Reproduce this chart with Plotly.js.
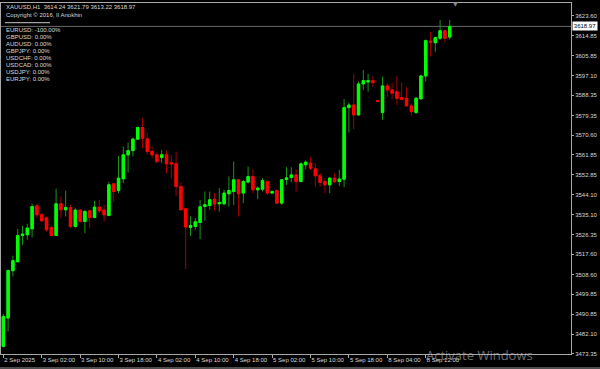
<!DOCTYPE html>
<html>
<head>
<meta charset="utf-8">
<script src="https://cdn.plot.ly/plotly-3.0.1.min.js"></script>
<style>html,body{margin:0;padding:0;background:#000;}#chart{width:600px;height:369px;}</style>
</head>
<body>
<div id="chart"></div>
<script>
// ---- data (XAUUSD H1) ----
const barIndex = Array.from({length: 94}, (_, i) => i);
const openP = [3476.60,3489.22,3510.25,3514.25,3525.94,3526.25,3528.91,3539.14,3535.14,3533.80,
3529.50,3525.94,3540.03,3537.36,3538.40,3529.94,3537.23,3532.16,3536.90,3533.94,
3538.56,3537.23,3534.83,3548.92,3545.94,3551.14,3561.81,3563.70,3568.79,3573.95,
3568.92,3563.30,3561.81,3560.60,3561.81,3558.40,3557.81,3547.72,3537.80,3529.50,
3529.94,3531.70,3538.83,3539.30,3542.10,3540.03,3540.03,3544.47,3545.50,3550.70,
3544.80,3549.70,3552.16,3546.26,3546.56,3549.94,3544.80,3545.94,3540.34,3550.83,
3551.70,3552.90,3549.94,3557.40,3558.10,3555.60,3552.50,3549.94,3548.47,3551.45,
3549.94,3551.00,3582.84,3584.00,3579.60,3593.37,3594.26,3594.84,3585.90,3580.61,
3592.48,3590.70,3589.95,3587.28,3587.00,3583.60,3580.61,3586.70,3596.93,3612.40,
3611.70,3613.70,3617.06,3614.24];
const highP = [3491.10,3510.70,3516.93,3528.90,3530.25,3531.14,3540.03,3540.00,3535.90,3534.40,
3530.40,3546.70,3543.30,3545.90,3539.60,3538.10,3537.80,3537.36,3537.40,3541.40,
3541.80,3539.30,3549.90,3549.30,3561.40,3565.50,3567.30,3569.50,3574.40,3578.10,
3571.70,3565.50,3562.90,3564.00,3563.70,3561.80,3563.30,3549.50,3538.30,3534.40,
3533.70,3541.80,3545.50,3545.50,3544.80,3547.00,3546.30,3552.16,3558.83,3551.10,
3550.70,3556.60,3555.40,3547.70,3551.45,3550.40,3546.00,3546.56,3551.10,3556.30,
3556.30,3555.40,3558.40,3559.30,3560.80,3558.40,3553.90,3551.45,3552.00,3553.70,
3555.10,3586.60,3585.06,3597.80,3594.40,3599.60,3597.80,3596.90,3586.00,3596.60,
3593.70,3593.70,3596.90,3593.95,3591.90,3584.50,3587.50,3597.40,3613.20,3616.60,
3614.40,3621.80,3617.40,3621.79];
const lowP = [3476.00,3483.27,3507.70,3514.00,3521.80,3524.00,3525.05,3533.80,3531.90,3527.70,
3525.60,3525.80,3533.70,3534.40,3529.20,3529.40,3531.45,3527.00,3529.20,3533.60,
3535.90,3532.16,3534.50,3541.05,3544.80,3549.20,3553.90,3561.05,3568.50,3564.80,
3561.80,3560.30,3558.10,3558.10,3553.60,3551.40,3543.60,3537.10,3511.00,3525.80,
3528.50,3524.30,3532.50,3537.40,3536.90,3536.60,3539.60,3538.83,3539.60,3534.40,
3540.30,3549.10,3544.80,3542.10,3545.50,3544.03,3544.50,3540.00,3539.60,3548.50,
3549.50,3545.50,3549.50,3555.40,3555.10,3547.70,3547.70,3544.80,3544.80,3549.20,
3548.00,3547.45,3571.72,3573.20,3579.15,3590.70,3589.95,3591.90,3585.60,3577.40,
3587.50,3586.60,3584.00,3585.95,3583.30,3579.15,3580.30,3586.50,3594.40,3605.50,
3607.70,3612.90,3611.70,3613.22];
const closeP = [3489.94,3510.38,3514.70,3525.94,3526.56,3529.23,3538.83,3535.14,3532.47,3528.47,
3525.94,3540.03,3537.36,3538.40,3529.94,3537.23,3532.16,3536.60,3533.94,3538.56,
3536.90,3535.14,3548.47,3545.50,3551.45,3561.81,3563.70,3568.79,3573.95,3569.23,
3563.30,3561.81,3558.83,3561.81,3557.81,3557.70,3547.72,3537.36,3529.67,3530.40,
3532.03,3538.70,3539.60,3541.80,3539.90,3540.60,3544.80,3545.94,3550.70,3544.47,
3549.94,3552.16,3546.26,3547.00,3550.40,3544.80,3545.50,3540.34,3550.70,3551.60,
3552.90,3549.94,3557.80,3558.56,3555.90,3552.50,3549.50,3548.47,3551.45,3549.94,
3551.00,3582.84,3584.00,3579.60,3593.37,3594.84,3594.84,3593.95,3585.70,3592.48,
3590.70,3589.23,3587.00,3586.57,3583.60,3581.06,3587.00,3596.93,3612.62,3611.90,
3613.95,3617.06,3613.70,3618.97];
const xTickIdx = [0,8,16,24,32,40,48,56,64,72,80,88];
const xTickLabels = ['2 Sep 2025','3 Sep 02:00','3 Sep 10:00','3 Sep 18:00','4 Sep 02:00','4 Sep 10:00',
  '4 Sep 18:00','5 Sep 02:00','5 Sep 10:00','5 Sep 18:00','8 Sep 04:00','8 Sep 12:00'];
const yTickVals = [3623.60,3614.85,3605.85,3597.10,3588.35,3579.35,3570.60,3561.85,3552.85,
  3544.10,3535.10,3526.35,3517.60,3508.60,3499.85,3490.85,3482.10,3473.35];
const yTickLabels = yTickVals.map(v => v.toFixed(2));
const lastPrice = 3618.97;
const headerText = 'XAUUSD,H1  3614.24 3621.79 3613.22 3618.97';
const copyrightText = 'Copyright © 2016, Il Anokhin';
const pairNames = ['EURUSD','GBPUSD','AUDUSD','GBPJPY','USDCHF','USDCAD','USDJPY','EURJPY'];
const pairValues = ['-100.00%','0.00%','0.00%','0.00%','0.00%','0.00%','0.00%','0.00%'];

// body-only arrays derived from OHLC
const bodyHigh = openP.map((o, i) => Math.max(o, closeP[i]));
const bodyLow = openP.map((o, i) => Math.min(o, closeP[i]));

const wicks = {
  type: 'candlestick', x: barIndex, open: openP, high: highP, low: lowP, close: closeP,
  increasing: {line: {color: '#149914', width: 1}, fillcolor: '#00ff00'},
  decreasing: {line: {color: '#a00000', width: 1}, fillcolor: '#ff0000'},
  whiskerwidth: 0, hoverinfo: 'skip', showlegend: false
};
const bodies = {
  type: 'candlestick', x: barIndex, open: openP, high: bodyHigh, low: bodyLow, close: closeP,
  increasing: {line: {color: '#00ff00', width: 1}, fillcolor: '#00ff00'},
  decreasing: {line: {color: '#ff0000', width: 1}, fillcolor: '#ff0000'},
  whiskerwidth: 0, hoverinfo: 'skip', showlegend: false
};

const PX = px => (px - 1) / 570;          // pixel x -> paper
const PY = py => (354 - py) / 351;        // pixel y -> paper

const FS = 6;
const txtFont = {family: 'Liberation Sans, Arial, sans-serif', size: FS, color: '#d8d8d8'};
const annotations = [
  {xref: 'paper', yref: 'paper', x: PX(4), y: PY(7.5), xanchor: 'left', yanchor: 'middle',
   text: headerText.replace('  ', '&nbsp; '), showarrow: false, font: txtFont},
  {xref: 'paper', yref: 'paper', x: PX(4), y: PY(15.3), xanchor: 'left', yanchor: 'middle',
   text: copyrightText, showarrow: false, font: txtFont},
  {xref: 'paper', yref: 'y', x: 1, y: lastPrice, xanchor: 'left', yanchor: 'middle', xshift: 1,
   text: lastPrice.toFixed(2), showarrow: false, bgcolor: '#ffffff', borderpad: 0.8,
   font: {family: 'Liberation Sans, Arial, sans-serif', size: FS, color: '#000000'}},
  {xref: 'paper', yref: 'paper', x: PX(455), y: PY(4), xanchor: 'center', yanchor: 'middle',
   text: '▼', showarrow: false, font: {family: 'DejaVu Sans', size: 6, color: '#8a8a8a'}},
  {xref: 'paper', yref: 'paper', x: PX(424), y: PY(355), xanchor: 'left', yanchor: 'middle',
   text: 'Activate Windows', showarrow: false,
   font: {family: 'Open Sans, sans-serif', size: 13, color: 'rgba(200,200,200,0.55)'}},
  {xref: 'paper', yref: 'paper', x: PX(424), y: PY(364), xanchor: 'left', yanchor: 'top',
   text: 'Go to Settings to activate Windows.', showarrow: false,
   font: {family: 'Open Sans, sans-serif', size: 9, color: 'rgba(200,200,200,0.45)'}}
];
pairNames.forEach((p, k) => {
  annotations.push({xref: 'paper', yref: 'paper', x: PX(4), y: PY(29.8 + 7.05 * k),
    xanchor: 'left', yanchor: 'middle', text: p + ': ' + pairValues[k], showarrow: false, font: txtFont});
});

const layout = {
  width: 600, height: 369,
  margin: {l: 1, r: 29, t: 3, b: 15, pad: 0},
  paper_bgcolor: '#000000', plot_bgcolor: '#000000',
  showlegend: false,
  xaxis: {
    type: 'linear', range: [-0.48, 118.27], rangeslider: {visible: false},
    tickvals: xTickIdx, ticktext: xTickLabels, ticklabelposition: 'outside right',
    tickangle: 0, automargin: false,
    ticks: 'outside', ticklen: 3, tickcolor: '#a8a8a8', tickwidth: 1,
    showline: true, mirror: true, linecolor: '#a8a8a8', linewidth: 1,
    showgrid: false, zeroline: false, fixedrange: true,
    tickfont: {family: 'Liberation Sans, Arial, sans-serif', size: FS, color: '#d8d8d8'}
  },
  yaxis: {
    side: 'right', range: [3473.2, 3629.38], automargin: false,
    tickvals: yTickVals, ticktext: yTickLabels,
    ticks: 'outside', ticklen: 2, tickcolor: '#a8a8a8', tickwidth: 1,
    showline: true, mirror: true, linecolor: '#a8a8a8', linewidth: 1,
    showgrid: false, zeroline: false, fixedrange: true,
    tickfont: {family: 'Liberation Sans, Arial, sans-serif', size: FS, color: '#d8d8d8'}
  },
  shapes: [
    {type: 'line', xref: 'paper', yref: 'y', x0: 0, x1: 1, y0: lastPrice, y1: lastPrice,
     line: {color: '#6a6a6a', width: 1}, layer: 'below'},
    {type: 'line', xref: 'paper', yref: 'paper', x0: PX(5), x1: PX(50), y0: PY(22.7), y1: PY(22.7),
     line: {color: '#c8c8c8', width: 1}},
    {type: 'line', xref: 'paper', yref: 'paper', x0: PX(0), x1: PX(600), y0: PY(368), y1: PY(368),
     line: {color: '#9a9a9a', width: 1}}
  ],
  annotations: annotations
};

Plotly.newPlot('chart', [wicks, bodies], layout, {displayModeBar: false, staticPlot: true});
</script>
</body>
</html>
